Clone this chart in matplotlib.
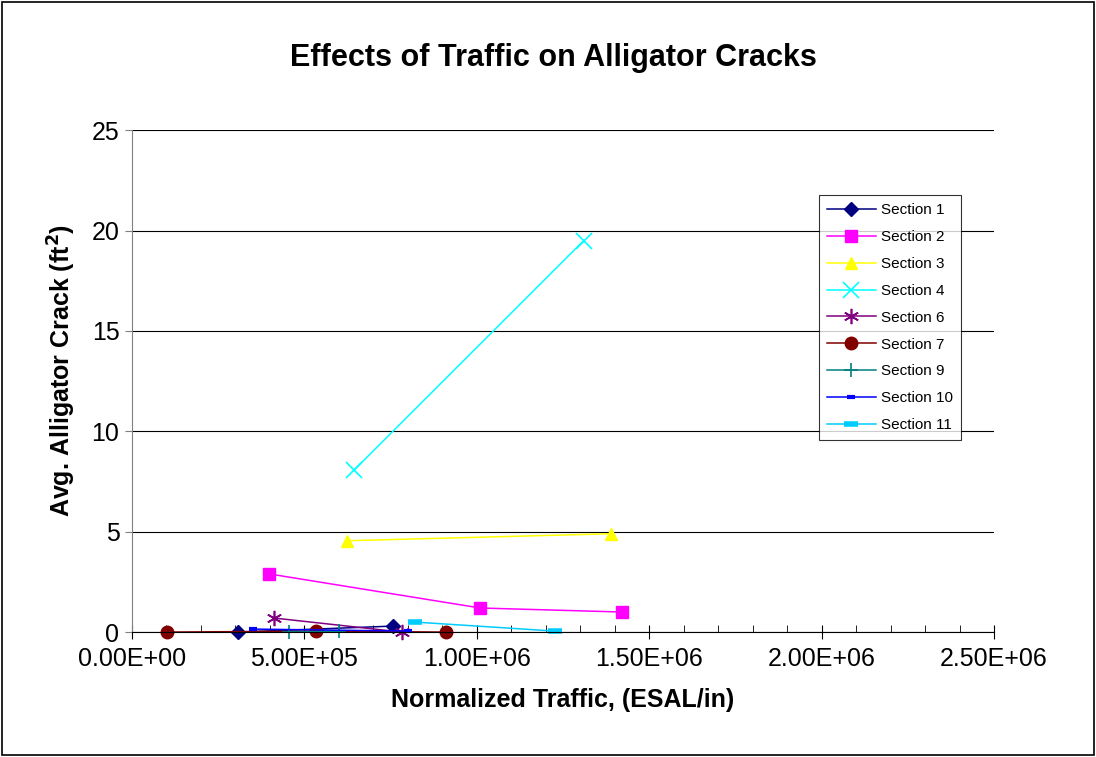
import matplotlib.pyplot as plt
from matplotlib.ticker import MultipleLocator

plt.rcParams['font.family'] = ['Liberation Sans', 'DejaVu Sans']

# data
s1_x = [3.07e5, 7.57e5]
s1_y = [0.0, 0.3]
s2_x = [3.97e5, 1.01e6, 1.42e6]
s2_y = [2.9, 1.2, 1.0]
s3_x = [6.23e5, 1.39e6]
s3_y = [4.55, 4.9]
s4_x = [6.43e5, 1.31e6]
s4_y = [8.05, 19.5]
s6_x = [4.12e5, 7.83e5]
s6_y = [0.7, 0.0]
s7_x = [1.01e5, 5.33e5, 9.10e5]
s7_y = [0.0, 0.05, 0.0]
s9_x = [4.55e5, 6.0e5]
s9_y = [0.0, 0.05]
s10_x = [3.50e5, 8.00e5]
s10_y = [0.15, 0.05]
s11_x = [8.20e5, 1.226e6]
s11_y = [0.5, 0.05]

fig = plt.figure(figsize=(10.96, 7.57), dpi=100)
ax = fig.add_axes([0.1204, 0.165, 0.7866, 0.663])

kw = dict(linewidth=1.1, clip_on=False)
ax.plot(s1_x, s1_y, color='#000080', marker='D', markersize=7, label='Section 1', **kw)
ax.plot(s2_x, s2_y, color='#FF00FF', marker='s', markersize=9, label='Section 2', **kw)
ax.plot(s3_x, s3_y, color='#FFFF00', marker='^', markersize=9, label='Section 3', **kw)
ax.plot(s4_x, s4_y, color='#00FFFF', marker='x', markersize=11, markeredgewidth=1.2, label='Section 4', **kw)
ax.plot(s6_x, s6_y, color='#800080', marker=(6, 2, 0), markersize=11, markeredgewidth=1.2, label='Section 6', **kw)
ax.plot(s7_x, s7_y, color='#800000', marker='o', markersize=9, label='Section 7', **kw)
ax.plot(s9_x, s9_y, color='#008080', marker='+', markersize=10, markeredgewidth=1.2, label='Section 9', **kw)
ax.plot(s10_x, s10_y, color='#0000FF', marker='_', markersize=6, markeredgewidth=3, label='Section 10', **kw)
ax.plot(s11_x, s11_y, color='#00CCFF', marker='_', markersize=10, markeredgewidth=4, label='Section 11', **kw)

ax.set_xlim(0, 2.5e6)
ax.set_ylim(0, 25)
ax.xaxis.set_major_locator(MultipleLocator(5e5))
ax.xaxis.set_minor_locator(MultipleLocator(1e5))
ax.yaxis.set_major_locator(MultipleLocator(5))
ax.xaxis.set_major_formatter(plt.FuncFormatter(lambda v, p: f'{v:.2E}'))
ax.grid(axis='y', color='black', linewidth=0.8)
ax.set_axisbelow(True)
for side in ['top', 'right']:
    ax.spines[side].set_visible(False)
ax.spines['left'].set_color('#808080')
ax.spines['bottom'].set_color('black')
ax.tick_params(axis='x', which='major', direction='inout', length=10, labelsize=18, pad=6)
ax.tick_params(axis='x', which='minor', direction='in', length=5)
ax.tick_params(axis='y', direction='out', length=5, labelsize=18, color='#808080', pad=4)

ax.set_xlabel('Normalized Traffic, (ESAL/in)', fontsize=18, fontweight='bold', labelpad=12)
ax.set_ylabel('Avg. Alligator Crack (ft$^\\mathbf{2}$)', fontsize=18, fontweight='bold')
ax.yaxis.set_label_coords(-0.063, 0.522)
fig.text(0.5046, 0.924, 'Effects of Traffic on Alligator Cracks', ha='center', va='center',
         fontsize=22, fontweight='bold')

leg = ax.legend(loc='upper left', bbox_to_anchor=(0.797, 0.87), fontsize=11, frameon=True,
                fancybox=False, edgecolor='black', borderaxespad=0, handlelength=3.2,
                handletextpad=0.35, labelspacing=0.84, borderpad=0.52)
leg.get_frame().set_linewidth(0.8)

fig.patches.append(plt.Rectangle((0.002, 0.002), 0.996, 0.996, transform=fig.transFigure,
                                 fill=False, edgecolor='black', linewidth=1.2))

fig.savefig('out.png', dpi=100)
